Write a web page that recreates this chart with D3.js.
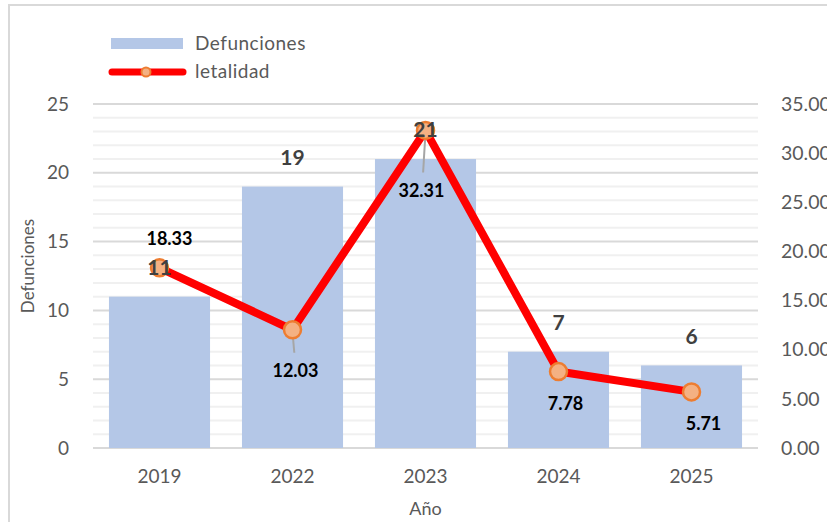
<!DOCTYPE html>
<html>
<head>
<meta charset="utf-8">
<script src="https://cdn.jsdelivr.net/npm/d3@7"></script>
<style>
  body { margin: 0; background: #fff; }
  svg text { font-family: Lato, "Open Sans", sans-serif; }
</style>
</head>
<body>
<div id="chart"></div>
<script>
// data
var years = ["2019", "2022", "2023", "2024", "2025"]
var defunciones = [11, 19, 21, 7, 6]
var letalidad = [18.33, 12.03, 32.31, 7.78, 5.71]
var leftTicks = [0, 5, 10, 15, 20, 25]
var rightTicks = [0, 5, 10, 15, 20, 25, 30, 35]

// label placement for the letalidad values (dx, dy from marker, leader line or not)
var lineLabelPos = [
  {dx: 10, dy: -29, leader: false},
  {dx: 3, dy: 41, leader: true},
  {dx: -4, dy: 60, leader: true},
  {dx: 7, dy: 32, leader: false},
  {dx: 12, dy: 32, leader: false}
]

var width = 827, height = 522
var plotL = 93, plotR = 758, plotT = 104, plotB = 448

var svg = d3.select("#chart").append("svg")
  .attr("width", width)
  .attr("height", height)

// chart frame
svg.append("rect")
  .attr("x", 9).attr("y", 5)
  .attr("width", 900).attr("height", 600)
  .attr("fill", "#fff")
  .attr("stroke", "#d9d9d9")
  .attr("stroke-width", 2)

var x = d3.scaleBand()
  .domain(years)
  .range([plotL, plotR])
  .paddingInner(0.24)
  .paddingOuter(0.12)

var y = d3.scaleLinear().domain([0, 25]).range([plotB, plotT])
var y2 = d3.scaleLinear().domain([0, 35]).range([plotB, plotT])

// minor gridlines every unit, major every 5
var minor = d3.range(1, 25).filter(d => d % 5 != 0)
svg.append("g").selectAll("line")
  .data(minor)
  .join("line")
  .attr("x1", plotL).attr("x2", plotR)
  .attr("y1", d => y(d)).attr("y2", d => y(d))
  .attr("stroke", "#f0f0f0")
  .attr("stroke-width", 2)

svg.append("g").selectAll("line")
  .data(leftTicks)
  .join("line")
  .attr("x1", plotL).attr("x2", plotR)
  .attr("y1", d => y(d)).attr("y2", d => y(d))
  .attr("stroke", "#d9d9d9")
  .attr("stroke-width", 2)

// left axis
var yAxis = svg.append("g")
  .attr("transform", "translate(" + plotL + ",0)")
  .call(d3.axisLeft(y).tickValues(leftTicks).tickSize(0).tickPadding(24))
yAxis.select(".domain").remove()
yAxis.selectAll("text").attr("font-size", 19).attr("fill", "#595959")

// right axis (cut at the picture's edge as in the original)
var yAxis2 = svg.append("g")
  .attr("transform", "translate(" + plotR + ",0)")
  .call(d3.axisRight(y2).tickValues(rightTicks).tickFormat(d3.format(".2f")).tickSize(0).tickPadding(23))
yAxis2.select(".domain").remove()
yAxis2.selectAll("text").attr("font-size", 19.5).attr("fill", "#595959")

// bottom axis
var xAxis = svg.append("g")
  .attr("transform", "translate(0," + plotB + ")")
  .call(d3.axisBottom(x).tickSize(0).tickPadding(22))
xAxis.select(".domain").remove()
xAxis.selectAll("text").attr("font-size", 19).attr("fill", "#595959")

// bars
svg.append("g").selectAll("rect")
  .data(defunciones)
  .join("rect")
  .attr("x", (d, i) => x(years[i]))
  .attr("y", d => y(d))
  .attr("width", x.bandwidth())
  .attr("height", d => plotB - y(d))
  .attr("fill", "#b4c7e7")

// letalidad line
var pts = letalidad.map((d, i) => [x(years[i]) + x.bandwidth() / 2, y2(d)])
svg.append("path")
  .attr("d", d3.line()(pts))
  .attr("fill", "none")
  .attr("stroke", "#ff0000")
  .attr("stroke-width", 8)
  .attr("stroke-linejoin", "round")
  .attr("stroke-linecap", "round")

// leader lines
var leaders = pts.map((p, i) => ({p: p, pos: lineLabelPos[i]})).filter(d => d.pos.leader)
svg.append("g").selectAll("line")
  .data(leaders)
  .join("line")
  .attr("x1", d => d.p[0])
  .attr("y1", d => d.p[1] + 2)
  .attr("x2", d => d.p[0] + d.pos.dx * 0.6)
  .attr("y2", d => d.p[1] + d.pos.dy - 18)
  .attr("stroke", "#a6a6a6")
  .attr("stroke-width", 2)

svg.append("g").selectAll("circle")
  .data(pts)
  .join("circle")
  .attr("cx", p => p[0]).attr("cy", p => p[1])
  .attr("r", 8.5)
  .attr("fill", "#f4b183")
  .attr("stroke", "#ed7d31")
  .attr("stroke-width", 2.5)

// bar value labels
svg.append("g").selectAll("text")
  .data(defunciones)
  .join("text")
  .attr("x", (d, i) => x(years[i]) + x.bandwidth() / 2)
  .attr("y", d => y(d) - 29)
  .attr("dy", "0.35em")
  .attr("text-anchor", "middle")
  .attr("font-size", 21)
  .attr("font-weight", "bold")
  .attr("fill", "#404040")
  .text(d => d)

// letalidad value labels
svg.append("g").selectAll("text")
  .data(letalidad)
  .join("text")
  .attr("x", (d, i) => pts[i][0] + lineLabelPos[i].dx)
  .attr("y", (d, i) => pts[i][1] + lineLabelPos[i].dy)
  .attr("dy", "0.35em")
  .attr("text-anchor", "middle")
  .attr("font-size", 18)
  .attr("font-weight", "bold")
  .attr("fill", "#000")
  .text(d => d3.format(".2f")(d))

// axis titles
svg.append("text")
  .attr("transform", "translate(28,266) rotate(-90)")
  .attr("dy", "0.35em")
  .attr("text-anchor", "middle")
  .attr("font-size", 17)
  .attr("fill", "#595959")
  .text("Defunciones")

svg.append("text")
  .attr("x", (plotL + plotR) / 2)
  .attr("y", 509)
  .attr("dy", "0.35em")
  .attr("text-anchor", "middle")
  .attr("font-size", 18)
  .attr("fill", "#595959")
  .text("Año")

// legend
var legend = svg.append("g")
legend.append("rect")
  .attr("x", 111).attr("y", 38)
  .attr("width", 72).attr("height", 11)
  .attr("fill", "#b4c7e7")
legend.append("text")
  .attr("x", 195).attr("y", 43)
  .attr("dy", "0.35em")
  .attr("font-size", 19)
  .attr("letter-spacing", 0.5)
  .attr("fill", "#595959")
  .text("Defunciones")
legend.append("line")
  .attr("x1", 112).attr("x2", 183)
  .attr("y1", 72).attr("y2", 72)
  .attr("stroke", "#ff0000")
  .attr("stroke-width", 7)
  .attr("stroke-linecap", "round")
legend.append("circle")
  .attr("cx", 146).attr("cy", 72)
  .attr("r", 4.5)
  .attr("fill", "#f4b183")
  .attr("stroke", "#ed7d31")
  .attr("stroke-width", 2)
legend.append("text")
  .attr("x", 195).attr("y", 71)
  .attr("dy", "0.35em")
  .attr("font-size", 19)
  .attr("letter-spacing", 0.5)
  .attr("fill", "#595959")
  .text("letalidad")
</script>
</body>
</html>
